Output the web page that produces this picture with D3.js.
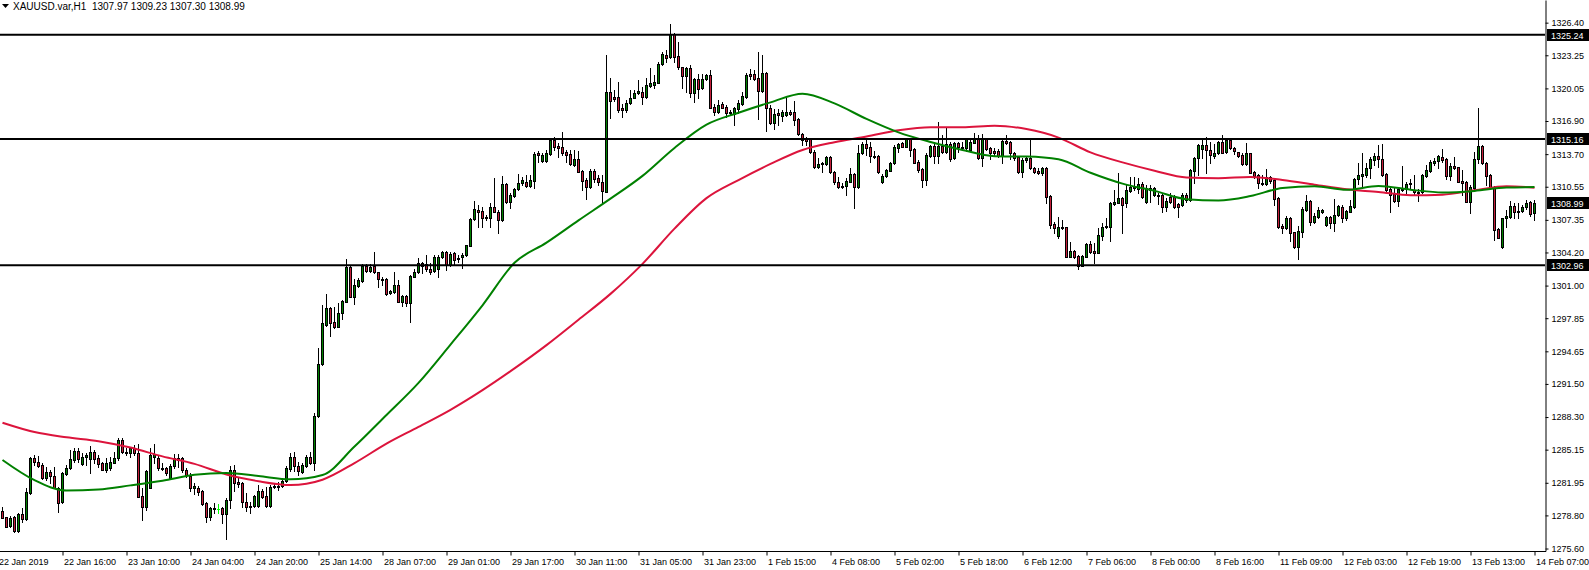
<!DOCTYPE html>
<html lang="en">
<head>
<meta charset="UTF-8">
<title>XAUUSD H1</title>
<script src="https://cdn.jsdelivr.net/npm/d3@7"></script>
<style>
  body { margin: 0; background: #fff; }
  text { font-family: "Liberation Sans", Arial, sans-serif; }
</style>
</head>
<body>
<script>
// symbol / header
var symbolName = "XAUUSD.var", timeframe = "H1";

// hourly candles (384 bars, 22 Jan 2019 -> 14 Feb 07:00)
var openP = [
1279.22,1278.64,1277.80,1278.61,1277.29,1278.93,1278.42,1280.99,1284.31,1283.95,1283.66,1282.44,1282.96,1282.60,1281.47,1280.06,
1282.83,1283.34,1284.15,1285.02,1283.79,1284.47,1284.28,1284.92,1284.37,1283.83,1283.15,1283.34,1283.89,1284.31,1286.11,1284.95,
1284.79,1285.27,1284.79,1280.67,1279.57,1281.47,1284.47,1284.37,1283.41,1283.34,1282.44,1283.57,1284.37,1284.31,1283.18,1282.63,
1281.47,1281.47,1281.15,1279.96,1278.67,1279.41,1279.45,1279.54,1278.93,1280.28,1283.18,1282.05,1281.89,1280.06,1279.74,1279.74,
1279.74,1281.15,1280.67,1279.74,1281.51,1281.57,1281.63,1282.15,1283.25,1284.41,1283.57,1283.02,1283.57,1284.41,1283.89,1288.40,
1293.42,1297.19,1298.80,1297.51,1296.96,1298.32,1299.44,1302.82,1299.93,1300.99,1301.47,1302.89,1302.44,1302.89,1302.28,1301.63,
1301.63,1300.25,1300.41,1301.05,1299.44,1299.99,1299.35,1301.86,1302.34,1303.15,1303.08,1302.57,1302.44,1302.60,1303.73,1304.27,
1302.99,1304.12,1303.70,1303.79,1303.95,1304.86,1307.43,1308.30,1308.21,1307.66,1307.50,1308.56,1308.08,1307.30,1310.81,1309.11,
1309.69,1310.33,1310.88,1311.04,1310.65,1311.14,1313.78,1313.07,1313.07,1313.68,1315.06,1314.49,1314.42,1313.87,1313.68,1312.65,
1313.20,1312.07,1311.20,1310.56,1312.10,1311.36,1310.98,1310.07,1319.73,1319.18,1319.18,1318.19,1317.96,1318.61,1319.15,1319.57,
1319.73,1319.25,1320.31,1320.38,1320.60,1322.37,1323.27,1323.12,1325.27,1323.18,1322.08,1321.28,1322.05,1319.57,1320.93,1320.06,
1320.93,1321.34,1318.28,1317.80,1318.51,1318.28,1317.64,1317.58,1318.06,1318.54,1319.25,1321.41,1321.41,1321.09,1319.80,1321.51,
1318.19,1316.67,1317.70,1317.42,1317.48,1317.73,1317.80,1317.06,1315.64,1315.13,1315.13,1313.94,1312.49,1312.85,1312.71,1313.46,
1312.01,1310.98,1310.65,1310.65,1311.04,1311.75,1310.56,1313.78,1314.65,1314.36,1313.55,1313.52,1310.98,1311.62,1312.10,1312.81,
1314.32,1314.81,1314.43,1315.14,1314.17,1312.98,1312.24,1311.21,1313.56,1314.49,1313.56,1314.49,1313.95,1314.69,1313.30,1314.81,
1314.43,1314.27,1314.11,1314.81,1315.14,1313.30,1315.14,1314.27,1314.04,1314.04,1313.53,1315.01,1314.91,1313.78,1313.40,1312.01,
1313.14,1313.37,1312.40,1312.11,1311.85,1312.40,1309.66,1306.93,1305.80,1306.64,1306.64,1303.80,1304.38,1303.87,1302.94,1303.80,
1305.03,1304.35,1304.19,1305.80,1306.70,1306.64,1308.89,1309.02,1309.43,1308.95,1310.17,1310.56,1310.30,1310.82,1309.11,1310.24,
1309.76,1309.76,1309.76,1308.63,1309.59,1309.59,1308.89,1308.79,1309.76,1309.27,1312.11,1313.30,1314.17,1314.59,1314.10,1313.55,
1313.78,1314.91,1313.94,1315.07,1314.26,1313.88,1313.62,1312.75,1313.78,1312.01,1311.69,1310.95,1310.82,1311.53,1311.20,1309.43,
1306.76,1306.54,1307.50,1306.15,1304.76,1306.21,1308.31,1309.21,1307.18,1307.66,1308.15,1306.86,1307.60,1307.08,1307.82,1308.62,
1307.50,1308.14,1308.62,1311.26,1311.62,1311.68,1312.33,1313.13,1313.52,1313.23,1311.75,1310.30,1309.81,1309.17,1310.20,1310.33,
1310.78,1310.23,1310.07,1310.01,1311.62,1312.07,1312.88,1313.04,1313.45,1313.23,1311.62,1312.58,1312.42,1311.10,1310.97,1309.11,
1310.46,1313.20,1314.48,1312.81,1311.68,1310.56,1306.47,1304.76,1307.50,1307.66,1308.69,1308.20,1308.20,1308.56,1309.04,1307.97
];
var highP = [
1279.64,1278.64,1278.70,1278.70,1279.00,1279.48,1281.41,1284.47,1284.63,1284.57,1283.82,1283.50,1283.18,1283.50,1281.57,1283.02,
1283.66,1285.11,1285.27,1285.27,1284.79,1284.79,1285.53,1285.11,1284.63,1283.99,1284.31,1284.40,1284.95,1286.24,1286.30,1285.27,
1285.43,1285.60,1285.66,1281.41,1283.18,1285.34,1285.66,1284.63,1283.82,1283.50,1283.73,1284.69,1284.69,1284.47,1283.34,1282.86,
1281.89,1281.67,1281.25,1280.12,1279.64,1279.96,1279.86,1279.64,1280.44,1283.57,1283.67,1282.38,1282.05,1280.93,1280.09,1280.77,
1281.73,1281.31,1281.57,1281.73,1281.89,1282.05,1282.38,1283.57,1284.79,1284.95,1283.99,1283.89,1284.63,1284.95,1288.66,1294.94,
1299.12,1300.18,1298.96,1298.96,1299.35,1299.60,1303.53,1302.99,1301.60,1301.70,1303.08,1303.08,1303.08,1304.21,1302.34,1301.79,
1301.70,1300.57,1302.28,1301.54,1300.09,1300.09,1302.02,1302.57,1303.63,1303.31,1303.95,1303.15,1303.95,1303.95,1304.37,1304.37,
1304.27,1304.21,1303.95,1304.12,1304.92,1307.50,1309.17,1308.79,1308.63,1307.82,1308.95,1311.36,1308.30,1311.59,1310.88,1309.91,
1310.46,1311.75,1311.52,1311.68,1311.68,1313.94,1314.00,1313.84,1314.10,1315.16,1315.39,1314.74,1315.81,1314.10,1314.10,1314.10,
1314.00,1312.17,1311.36,1312.26,1312.26,1311.68,1311.68,1323.27,1321.02,1319.90,1320.70,1318.51,1318.93,1319.90,1319.90,1320.86,
1320.22,1321.02,1321.99,1321.34,1322.63,1323.53,1323.76,1326.24,1325.37,1324.56,1322.15,1322.15,1322.31,1321.02,1321.41,1321.41,
1321.41,1321.83,1318.51,1318.93,1318.70,1318.45,1317.96,1318.28,1318.93,1319.73,1321.51,1321.92,1321.83,1323.60,1323.27,1321.60,
1318.45,1318.06,1318.06,1317.96,1319.25,1317.96,1318.83,1317.16,1315.71,1315.39,1315.23,1314.10,1313.29,1312.97,1313.55,1313.55,
1312.07,1311.52,1310.88,1311.43,1312.33,1311.84,1314.58,1314.90,1315.06,1314.90,1314.00,1313.62,1311.75,1312.26,1312.97,1314.58,
1314.74,1314.91,1315.23,1315.23,1314.27,1313.14,1312.33,1313.78,1314.59,1314.75,1316.78,1315.56,1316.36,1314.91,1314.91,1314.91,
1314.91,1315.23,1315.23,1315.72,1315.56,1315.65,1315.23,1314.43,1314.27,1314.17,1315.14,1315.56,1314.98,1313.95,1313.46,1313.30,
1313.46,1315.14,1312.50,1312.34,1312.50,1312.50,1309.76,1307.18,1307.67,1307.34,1306.70,1305.25,1304.45,1303.96,1303.96,1305.15,
1305.35,1305.15,1306.54,1307.02,1307.50,1309.12,1310.24,1311.92,1309.53,1310.82,1311.46,1311.46,1311.37,1311.04,1310.72,1310.72,
1310.56,1309.98,1309.92,1309.43,1309.92,1309.76,1308.95,1309.92,1309.98,1312.23,1313.39,1314.68,1315.07,1315.39,1314.91,1314.68,
1315.00,1315.55,1315.23,1315.23,1314.36,1313.94,1313.78,1314.75,1313.84,1312.11,1311.78,1311.69,1312.23,1311.59,1311.27,1309.53,
1306.95,1307.73,1307.66,1306.21,1306.76,1308.56,1309.76,1309.27,1307.98,1308.56,1308.37,1307.73,1307.73,1309.34,1308.79,1308.78,
1308.30,1309.27,1311.42,1312.81,1313.77,1312.81,1313.45,1313.77,1314.58,1314.64,1311.84,1310.39,1310.39,1310.46,1312.58,1310.97,
1311.30,1311.68,1310.33,1311.75,1312.65,1313.13,1313.29,1313.61,1314.19,1313.36,1312.81,1313.45,1312.49,1312.17,1311.10,1310.72,
1313.94,1318.12,1314.58,1312.97,1311.75,1310.65,1306.53,1307.56,1308.30,1309.17,1308.95,1308.95,1308.78,1309.27,1309.17,1309.23
];
var lowP = [
1278.51,1277.64,1277.70,1277.20,1277.22,1278.19,1278.35,1280.83,1283.66,1283.50,1282.31,1282.22,1281.89,1281.41,1279.09,1279.96,
1282.70,1283.28,1283.99,1283.99,1283.66,1283.66,1282.86,1283.82,1283.50,1283.15,1283.02,1283.18,1283.83,1284.15,1284.79,1284.63,
1284.47,1284.63,1280.60,1278.35,1279.32,1281.41,1283.82,1283.18,1283.18,1282.70,1282.38,1283.34,1283.50,1283.02,1282.54,1281.15,
1280.83,1280.77,1279.80,1278.13,1278.35,1279.00,1279.00,1278.10,1276.48,1279.48,1281.19,1281.57,1279.64,1279.25,1279.06,1279.64,
1279.64,1280.45,1279.64,1279.64,1281.41,1281.25,1281.57,1282.05,1283.12,1283.12,1282.70,1282.86,1283.50,1283.76,1283.18,1288.33,
1293.33,1297.09,1296.13,1296.87,1296.96,1297.77,1299.44,1299.86,1299.22,1300.89,1301.38,1302.34,1302.34,1302.18,1300.89,1301.05,
1300.09,1300.18,1300.31,1299.38,1299.02,1299.02,1297.51,1301.79,1302.24,1302.18,1302.44,1302.12,1302.34,1301.86,1303.63,1302.50,
1302.89,1302.99,1303.31,1302.73,1303.89,1304.86,1307.34,1306.69,1306.69,1307.34,1306.69,1308.08,1306.05,1307.24,1308.95,1308.46,
1309.59,1310.23,1310.72,1310.56,1310.56,1310.46,1312.97,1312.97,1312.97,1313.62,1314.10,1313.46,1313.62,1312.97,1312.65,1312.59,
1311.94,1310.23,1309.37,1310.46,1311.04,1310.72,1308.95,1310.01,1317.16,1318.83,1317.80,1317.32,1317.80,1318.51,1319.09,1319.48,
1318.51,1319.15,1320.22,1320.06,1320.54,1322.31,1322.63,1323.02,1322.63,1321.92,1320.06,1319.73,1319.25,1318.70,1319.09,1319.99,
1320.86,1318.12,1317.48,1317.64,1318.12,1317.32,1317.48,1316.51,1317.64,1318.45,1319.15,1320.96,1320.86,1317.09,1319.67,1315.93,
1316.58,1316.13,1316.51,1316.90,1317.42,1317.48,1316.51,1315.55,1314.58,1314.58,1313.78,1312.39,1312.33,1311.94,1312.65,1311.84,
1310.78,1310.46,1310.40,1309.75,1310.98,1308.46,1310.46,1313.68,1313.62,1312.97,1313.29,1311.84,1310.88,1311.52,1312.07,1312.71,
1313.94,1314.36,1314.36,1313.53,1312.82,1312.01,1310.56,1310.72,1313.46,1312.82,1312.82,1313.85,1313.85,1313.08,1313.20,1313.95,
1314.11,1314.04,1314.04,1314.75,1313.20,1312.56,1314.11,1313.20,1313.62,1313.46,1312.82,1314.69,1313.20,1313.14,1311.92,1311.47,
1312.98,1312.24,1311.92,1311.79,1311.69,1309.02,1306.54,1306.06,1305.57,1306.44,1303.74,1303.74,1303.64,1302.61,1302.90,1303.74,
1304.19,1303.16,1304.12,1305.41,1306.54,1305.35,1308.79,1308.95,1306.12,1308.63,1310.08,1310.24,1309.92,1309.43,1309.01,1309.11,
1309.66,1308.89,1308.15,1308.24,1309.01,1308.47,1307.66,1308.69,1309.11,1309.21,1310.95,1311.69,1313.30,1311.91,1312.88,1313.30,
1313.72,1313.78,1313.84,1314.17,1313.68,1313.46,1312.65,1312.65,1311.85,1311.37,1310.40,1310.72,1310.72,1310.95,1308.79,1306.54,
1306.05,1306.44,1305.34,1304.60,1303.54,1305.73,1308.24,1306.86,1307.02,1307.50,1308.05,1306.76,1306.54,1306.31,1307.73,1307.11,
1307.34,1308.08,1308.53,1310.78,1310.65,1311.52,1311.42,1312.65,1312.49,1311.62,1310.07,1308.14,1309.11,1308.72,1310.14,1309.91,
1310.39,1309.81,1309.17,1309.91,1311.52,1311.94,1312.65,1312.33,1312.97,1311.30,1311.20,1312.26,1310.97,1309.75,1309.04,1307.98,
1310.33,1312.81,1312.74,1310.72,1310.46,1305.40,1305.56,1304.66,1306.69,1307.56,1307.56,1307.56,1308.14,1308.40,1307.75,1307.30
];
var closeP = [
1278.58,1277.71,1278.58,1277.32,1278.93,1278.42,1281.02,1284.31,1283.99,1283.57,1282.44,1283.02,1282.63,1281.47,1280.03,1282.86,
1283.41,1284.24,1285.02,1284.21,1284.47,1284.63,1284.92,1284.28,1283.76,1283.21,1283.86,1283.99,1284.37,1286.11,1284.95,1284.79,
1285.27,1284.79,1280.60,1279.57,1283.08,1284.63,1284.69,1283.34,1283.31,1282.92,1283.57,1284.31,1284.15,1283.18,1282.70,1281.41,
1281.63,1281.09,1279.90,1278.67,1279.48,1279.48,1279.45,1278.93,1280.28,1283.18,1281.96,1281.83,1280.06,1279.64,1279.64,1280.67,
1281.15,1280.61,1279.74,1281.57,1281.63,1281.63,1282.15,1283.34,1284.41,1283.57,1283.12,1283.67,1284.41,1283.89,1288.40,1293.42,
1297.35,1298.80,1297.35,1297.03,1298.38,1299.51,1302.82,1299.93,1301.05,1301.54,1302.89,1302.44,1302.82,1302.28,1301.60,1301.54,
1300.18,1300.47,1301.05,1299.44,1299.99,1299.35,1301.92,1302.34,1303.15,1302.89,1302.57,1302.34,1303.79,1303.79,1304.27,1302.99,
1304.05,1303.47,1303.57,1303.95,1304.92,1307.43,1308.40,1308.14,1307.56,1307.50,1308.56,1308.14,1307.30,1310.81,1309.11,1309.75,
1310.33,1310.88,1311.20,1310.65,1311.20,1313.68,1313.62,1313.62,1313.78,1315.06,1314.36,1314.26,1313.78,1313.62,1312.75,1313.20,
1312.01,1311.14,1310.56,1312.10,1311.30,1310.98,1310.17,1319.73,1318.83,1319.02,1317.96,1317.96,1318.61,1319.15,1319.57,1319.80,
1319.25,1320.38,1320.54,1320.70,1322.37,1323.34,1323.02,1325.27,1323.12,1322.15,1321.28,1322.05,1319.57,1320.93,1319.99,1320.93,
1321.34,1318.19,1317.80,1318.45,1318.19,1317.64,1317.73,1318.12,1318.61,1319.32,1321.34,1321.25,1320.96,1319.80,1321.51,1318.19,
1316.67,1317.54,1317.48,1317.80,1317.80,1317.61,1317.00,1315.61,1315.06,1314.97,1313.87,1312.49,1312.71,1312.75,1313.46,1311.94,
1310.98,1310.56,1310.56,1311.10,1311.75,1310.56,1313.78,1314.65,1314.32,1313.52,1313.42,1311.94,1311.62,1312.17,1312.81,1314.36,
1314.65,1314.43,1315.14,1314.11,1312.88,1312.17,1311.21,1313.62,1314.49,1313.56,1314.49,1313.95,1314.69,1313.20,1314.81,1314.36,
1314.27,1315.14,1314.91,1315.14,1313.30,1315.14,1314.17,1313.85,1313.85,1313.53,1315.01,1314.81,1313.78,1313.30,1312.01,1313.14,
1313.37,1312.34,1312.01,1311.92,1312.40,1309.60,1306.86,1306.54,1306.64,1306.70,1303.80,1304.38,1303.80,1302.94,1303.87,1305.03,
1304.29,1304.19,1305.90,1306.70,1306.76,1308.95,1309.12,1309.44,1308.79,1310.24,1310.56,1310.40,1310.82,1309.53,1310.40,1310.40,
1310.40,1309.66,1308.63,1309.21,1309.11,1308.56,1308.56,1309.76,1309.27,1312.17,1313.30,1314.59,1314.59,1314.10,1313.62,1313.84,
1314.91,1313.84,1315.07,1314.26,1314.04,1313.55,1312.72,1313.78,1311.91,1311.59,1310.88,1310.82,1311.53,1311.14,1309.37,1306.70,
1306.54,1307.50,1306.12,1304.76,1306.28,1308.37,1309.21,1307.18,1307.73,1308.31,1308.31,1307.60,1307.08,1307.82,1308.69,1307.50,
1308.20,1308.69,1311.30,1311.68,1311.75,1312.39,1313.23,1313.52,1313.20,1311.68,1310.23,1309.75,1309.17,1310.33,1310.33,1310.78,
1310.88,1310.07,1309.91,1311.68,1312.17,1312.91,1313.04,1313.52,1313.13,1311.62,1312.58,1312.39,1311.04,1310.94,1309.11,1310.49,
1313.23,1314.48,1312.81,1311.62,1310.56,1306.37,1305.63,1307.50,1307.75,1308.69,1308.08,1308.08,1308.62,1309.01,1307.88,1308.99
];

// moving averages, sampled every 8 bars (last sample on the final bar)
var maBars = [0,8,16,24,32,40,48,56,64,72,80,88,96,104,112,120,128,136,144,152,160,168,176,184,
              192,200,208,216,224,232,240,248,256,264,272,280,288,296,304,312,320,328,336,344,352,360,368,376,383];
var maSlow = [1287.75,1286.85,1286.35,1285.97,1285.35,1284.50,1283.78,1282.75,1282.10,1281.73,1282.25,1283.85,1285.73,1287.35,1289.00,1290.90,
              1293.00,1295.25,1297.70,1300.20,1303.10,1306.50,1309.45,1311.20,1312.75,1314.10,1314.85,1315.40,1316.00,1316.30,1316.30,1316.45,
              1316.12,1315.30,1313.87,1312.90,1312.10,1311.45,1311.38,1311.50,1311.20,1310.75,1310.30,1310.05,1309.73,1309.78,1310.20,1310.59,1310.46];
var maFast = [1284.15,1282.20,1281.20,1281.30,1281.70,1282.15,1282.72,1282.90,1282.60,1282.28,1282.70,1285.45,1288.50,1291.60,1295.30,1299.10,
              1303.20,1305.15,1307.30,1309.40,1311.60,1314.30,1316.55,1317.70,1318.70,1319.54,1318.60,1317.10,1315.80,1314.87,1314.10,1313.50,
              1313.46,1313.20,1311.90,1310.85,1310.15,1309.35,1309.22,1309.65,1310.43,1310.60,1310.25,1310.62,1310.27,1310.00,1310.15,1310.47,1310.52];

// horizontal levels drawn on the chart
var levels = [1325.24, 1315.16, 1302.96];

// price scale labels
var priceTicks = [1326.40,1323.25,1320.05,1316.90,1313.70,1310.55,1307.35,1304.20,1301.00,
                  1297.85,1294.65,1291.50,1288.30,1285.15,1281.95,1278.80,1275.60];

// time scale labels and the bar each one sits on
var firstLabel = "22 Jan 2019";
var timeLabels = ["22 Jan 16:00","23 Jan 10:00","24 Jan 04:00","24 Jan 20:00","25 Jan 14:00","28 Jan 07:00",
                  "29 Jan 01:00","29 Jan 17:00","30 Jan 11:00","31 Jan 05:00","31 Jan 23:00","1 Feb 15:00",
                  "4 Feb 08:00","5 Feb 02:00","5 Feb 18:00","6 Feb 12:00","7 Feb 06:00","8 Feb 00:00",
                  "8 Feb 16:00","11 Feb 09:00","12 Feb 03:00","12 Feb 19:00","13 Feb 13:00","14 Feb 07:00"];
var labelBars = [15,31,47,63,79,95,111,127,143,159,175,191,207,223,239,255,271,287,303,319,335,351,367,383];

var width = 1589, height = 570;
var plotRight = 1545, plotBottom = 551;
var bullColor = "#008000", bearColor = "#c41e3a";
var axisFont = "9px";

var svg = d3.select("body").append("svg")
    .attr("width", width)
    .attr("height", height)
    .style("background", "#fff");

var n = closeP.length;
var X = d3.scaleLinear().domain([0, n - 1]).range([2.5, 2.5 + 4 * (n - 1)]);
var Y = d3.scaleLinear().domain([1275.36, 1328.59]).range([plotBottom, 0]);

// candles
var bars = d3.range(n).map(function (i) {
    return {i: i, o: openP[i], h: highP[i], l: lowP[i], c: closeP[i]};
});

var gCandles = svg.append("g").attr("shape-rendering", "crispEdges");

gCandles.selectAll("line.wick")
    .data(bars).enter().append("line")
    .attr("class", "wick")
    .attr("x1", function (d) { return X(d.i); })
    .attr("x2", function (d) { return X(d.i); })
    .attr("y1", function (d) { return Math.round(Y(d.h)); })
    .attr("y2", function (d) { return Math.round(Y(d.l)) + 1; })
    .attr("stroke", function (d) { return d.o === d.c ? "#00ff00" : "#000"; })
    .attr("stroke-width", 1);

gCandles.selectAll("rect.body")
    .data(bars.filter(function (d) { return d.o !== d.c; })).enter().append("rect")
    .attr("class", "body")
    .attr("x", function (d) { return X(d.i) - 1; })
    .attr("y", function (d) { return Math.round(Y(Math.max(d.o, d.c))) + 0.5; })
    .attr("width", 2)
    .attr("height", function (d) {
        return Math.max(1, Math.round(Y(Math.min(d.o, d.c))) - Math.round(Y(Math.max(d.o, d.c))));
    })
    .attr("fill", function (d) { return d.c > d.o ? bullColor : bearColor; })
    .attr("stroke", "#000")
    .attr("stroke-width", 1);

gCandles.selectAll("line.doji")
    .data(bars.filter(function (d) { return d.o === d.c; })).enter().append("line")
    .attr("x1", function (d) { return X(d.i) - 1.5; })
    .attr("x2", function (d) { return X(d.i) + 1.5; })
    .attr("y1", function (d) { return Math.round(Y(d.c)) + 0.5; })
    .attr("y2", function (d) { return Math.round(Y(d.c)) + 0.5; })
    .attr("stroke", "#00ff00");

// moving averages
var maLine = function (vals) {
    return d3.line()
        .x(function (d, k) { return X(maBars[k]); })
        .y(function (d) { return Y(d); })
        .curve(d3.curveMonotoneX)(vals);
};
svg.append("path").attr("d", maLine(maSlow))
    .attr("fill", "none").attr("stroke", "#dc143c").attr("stroke-width", 2);
svg.append("path").attr("d", maLine(maFast))
    .attr("fill", "none").attr("stroke", "#008000").attr("stroke-width", 2);

// horizontal levels
svg.selectAll("line.level")
    .data(levels).enter().append("line")
    .attr("x1", 0).attr("x2", plotRight)
    .attr("y1", function (d) { return Y(d); })
    .attr("y2", function (d) { return Y(d); })
    .attr("stroke", "#000").attr("stroke-width", 2);

// price axis on the right
var gY = svg.append("g")
    .attr("transform", "translate(" + (plotRight + 0.5) + ",0)")
    .call(d3.axisRight(Y).tickValues(priceTicks).tickSize(3).tickSizeOuter(0)
        .tickFormat(d3.format(".2f")));
gY.selectAll("text").attr("font-size", axisFont).attr("font-family", "Liberation Sans, Arial, sans-serif").attr("fill", "#000");
gY.select(".domain").attr("stroke", "#000");

// time axis
svg.append("line")
    .attr("x1", 0).attr("x2", plotRight + 1)
    .attr("y1", plotBottom + 0.5).attr("y2", plotBottom + 0.5)
    .attr("stroke", "#000");
var gX = svg.append("g")
    .attr("transform", "translate(0," + (plotBottom + 0.5) + ")")
    .call(d3.axisBottom(X).tickValues(labelBars).tickSize(4)
        .tickFormat(function (d, k) { return timeLabels[k]; }));
gX.select(".domain").remove();
gX.selectAll("text")
    .attr("text-anchor", "start")
    .attr("dx", 1)
    .attr("font-size", axisFont)
    .attr("font-family", "Liberation Sans, Arial, sans-serif")
    .attr("fill", "#000");
svg.append("text")
    .attr("x", -1).attr("y", plotBottom + 14)
    .attr("font-size", axisFont)
    .text(firstLabel);

// boxed price labels: levels and last close
var boxed = levels.concat([closeP[n - 1]]);
var gBox = svg.selectAll("g.pbox").data(boxed).enter().append("g")
    .attr("transform", function (d) { return "translate(" + (plotRight + 2) + "," + Math.round(Y(d)) + ")"; });
gBox.append("rect")
    .attr("x", 0).attr("y", -6).attr("width", width - plotRight - 2).attr("height", 12)
    .attr("fill", "#000");
gBox.append("text")
    .attr("x", 4).attr("y", 3.5)
    .attr("font-size", axisFont)
    .attr("fill", "#fff")
    .text(function (d) { return d.toFixed(2); });

// header
svg.append("path").attr("d", "M2,4 L9,4 L5.5,8 Z").attr("fill", "#000");
svg.append("text")
    .attr("x", 13).attr("y", 10)
    .attr("font-size", "10px")
    .attr("xml:space", "preserve")
    .text(symbolName + "," + timeframe + "  " +
        [openP[n - 1], highP[n - 1], lowP[n - 1], closeP[n - 1]].map(function (v) { return v.toFixed(2); }).join(" "));
</script>
</body>
</html>
